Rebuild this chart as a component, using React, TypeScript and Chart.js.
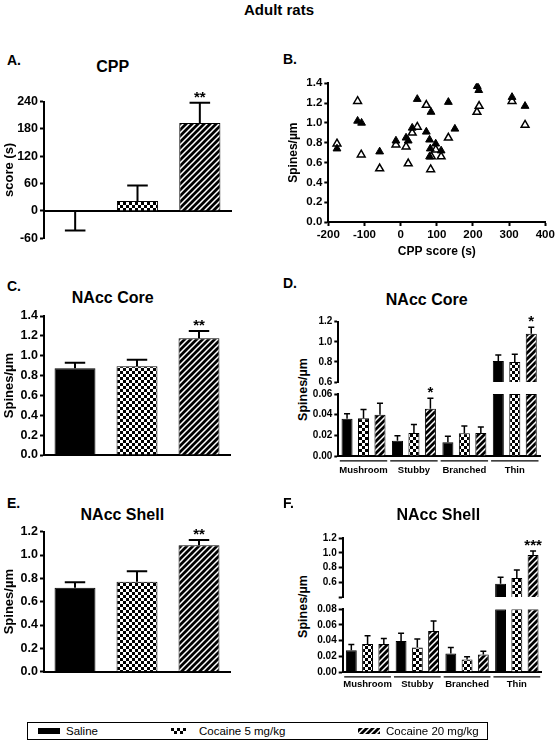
import React, { useEffect, useRef } from 'react';
import { Chart, registerables } from 'chart.js';
Chart.register(...registerables);

const FONT = '"Liberation Sans", Arial, Helvetica, sans-serif';

// ---------------- data ----------------
const treatments = ['Saline', 'Cocaine 5 mg/kg', 'Cocaine 20 mg/kg'];
const spineTypes = ['Mushroom', 'Stubby', 'Branched', 'Thin'];

// A. CPP score (s)
const cppTicks = [-60, 0, 60, 120, 180, 240];
const cppMean = [-2, 22, 193];
const cppSem = [41, 34, 44];
const cppSig = ['', '', '**'];

// B. spine density vs CPP score (filled = core, open = shell)
const scatterXTicks = [-200, -100, 0, 100, 200, 300, 400];
const scatterYTicks = [0, 0.2, 0.4, 0.6, 0.8, 1.0, 1.2, 1.4];
const coreCppX = [-176, -119, -108, -58, -13, 15, 21, 32, 46, 71, 80, 82, 80, 84, 97, 112, 132, 150, 212, 216, 308, 344];
const coreSpinesY = [0.74, 1.02, 1.0, 0.71, 0.82, 0.85, 0.82, 0.95, 1.24, 0.91, 0.83, 0.74, 0.66, 1.11, 0.79, 0.72, 1.21, 0.94, 1.37, 1.33, 1.26, 1.17];
const shellCppX = [-176, -119, -109, -58, -13, 15, 21, 32, 46, 71, 85, 83, 97, 112, 132, 211, 217, 308, 344];
const shellSpinesY = [0.79, 1.22, 0.68, 0.54, 0.78, 0.76, 0.59, 0.9, 0.96, 1.18, 0.66, 0.53, 0.73, 0.66, 0.85, 1.11, 1.17, 1.22, 0.98];

// C. NAcc core total spine density
const coreTotalTicks = [0, 0.2, 0.4, 0.6, 0.8, 1.0, 1.2, 1.4];
const coreTotalMean = [0.873, 0.893, 1.175];
const coreTotalSem = [0.057, 0.067, 0.074];
const coreTotalSig = ['', '', '**'];

// D. NAcc core by spine type (Mushroom, Stubby, Branched, Thin)
const coreUpperTicks = [0.6, 0.8, 1.0, 1.2];
const coreLowerTicks = [0, 0.02, 0.04, 0.06];
const coreSaline = [0.036, 0.0147, 0.0134, 0.81];
const coreSalineSem = [0.005, 0.0048, 0.0056, 0.058];
const coreCoc5 = [0.0365, 0.0223, 0.022, 0.8];
const coreCoc5Sem = [0.0085, 0.0083, 0.007, 0.075];
const coreCoc20 = [0.04, 0.0457, 0.0223, 1.08];
const coreCoc20Sem = [0.011, 0.0101, 0.0057, 0.065];
const coreTypeSig = [['', '', '', ''], ['', '', '', ''], ['', '*', '', '*']];

// E. NAcc shell total spine density
const shellTotalTicks = [0, 0.2, 0.4, 0.6, 0.8, 1.0, 1.2];
const shellTotalMean = [0.72, 0.771, 1.083];
const shellTotalSem = [0.046, 0.089, 0.046];
const shellTotalSig = ['', '', '**'];

// F. NAcc shell by spine type
const shellUpperTicks = [0.4, 0.6, 0.8, 1.0, 1.2];
const shellLowerTicks = [0, 0.02, 0.04, 0.06, 0.08];
const shellSaline = [0.0279, 0.0394, 0.0236, 0.582];
const shellSalineSem = [0.0073, 0.0099, 0.0077, 0.086];
const shellCoc5 = [0.0356, 0.0313, 0.0159, 0.659];
const shellCoc5Sem = [0.0106, 0.0107, 0.0034, 0.108];
const shellCoc20 = [0.0356, 0.0523, 0.0223, 0.974];
const shellCoc20Sem = [0.0073, 0.0128, 0.0043, 0.054];
const shellTypeSig = [['', '', '', ''], ['', '', '', ''], ['', '', '', '***']];

// ---------------- patterns ----------------
function makeChecker(): CanvasPattern {
  const c = document.createElement('canvas');
  c.width = 6; c.height = 6;
  const g = c.getContext('2d')!;
  g.fillStyle = '#fff'; g.fillRect(0, 0, 6, 6);
  g.fillStyle = '#000'; g.fillRect(0, 0, 3, 3); g.fillRect(3, 3, 3, 3);
  return g.createPattern(c, 'repeat')!;
}
function makeStripes(): CanvasPattern {
  const s = 6;
  const c = document.createElement('canvas');
  c.width = s; c.height = s;
  const g = c.getContext('2d')!;
  g.fillStyle = '#000'; g.fillRect(0, 0, s, s);
  g.strokeStyle = '#fff'; g.lineWidth = 1.5;
  g.beginPath();
  g.moveTo(-1, s + 1); g.lineTo(s + 1, -1);
  g.moveTo(-1, 1); g.lineTo(1, -1);
  g.moveTo(s - 1, s + 1); g.lineTo(s + 1, s - 1);
  g.stroke();
  return g.createPattern(c, 'repeat')!;
}
function fills(): (string | CanvasPattern)[] {
  return ['#000', makeChecker(), makeStripes()];
}

// ---------------- helpers ----------------
const bold = (size: number) => ({ family: FONT, size, weight: 'bold' as const });

function yScale(o: { ticks: number[]; width: number; size: number; dec: number; title?: string; titleSize?: number; titlePad?: number; hideBelow?: number }) {
  const min = o.ticks[0];
  const max = o.ticks[o.ticks.length - 1];
  return {
    type: 'linear',
    position: 'left',
    min,
    max,
    afterFit: (s: any) => { s.width = o.width; },
    afterBuildTicks: (s: any) => { s.ticks = o.ticks.map((v) => ({ value: v })); },
    ticks: {
      autoSkip: false,
      color: '#000',
      font: bold(o.size),
      padding: 2,
      callback: (v: any) => (o.hideBelow !== undefined && Number(v) < o.hideBelow ? '' : Number(v).toFixed(o.dec)),
    },
    grid: { display: true, drawOnChartArea: false, drawTicks: true, tickLength: 4, tickWidth: 2, tickColor: '#000', color: '#000' },
    border: { display: true, color: '#000', width: 2 },
    title: o.title
      ? { display: true, text: o.title, color: '#000', font: bold(o.titleSize ?? 13), padding: { top: o.titlePad ?? 0, bottom: 0 } }
      : { display: false },
  };
}

function hiddenX(border: boolean, extra: any = {}) {
  return {
    type: 'category',
    ticks: { display: false },
    grid: { display: false, drawTicks: false },
    border: { display: border, color: '#000', width: 2 },
    afterFit: (s: any) => { s.height = 0; },
    ...extra,
  };
}

function errorBarPlugin(means: number[][], errs: number[][], sigs: string[][], lw: number, cap: number) {
  return {
    id: 'errorBars',
    afterDatasetsDraw(chart: any) {
      const ctx = chart.ctx;
      const y = chart.scales.y;
      chart.data.datasets.forEach((_ds: any, di: number) => {
        const meta = chart.getDatasetMeta(di);
        meta.data.forEach((el: any, i: number) => {
          const m = means[di][i];
          if (m == null) return;
          if (m < y.min - 1e-9 || m > y.max + 1e-9) return;
          const e = errs[di][i];
          const end = m >= 0 ? m + e : m - e;
          const p0 = y.getPixelForValue(m);
          const p1 = y.getPixelForValue(end);
          const { x, width } = el.getProps(['x', 'width'], true);
          const hw = (width * cap) / 2;
          ctx.save();
          ctx.strokeStyle = '#000';
          ctx.lineWidth = lw;
          ctx.beginPath();
          ctx.moveTo(x, p0); ctx.lineTo(x, p1);
          ctx.moveTo(x - hw, p1); ctx.lineTo(x + hw, p1);
          ctx.stroke();
          const s = sigs[di][i];
          if (s) {
            ctx.fillStyle = '#000';
            ctx.font = `bold 15px ${FONT}`;
            ctx.textAlign = 'center';
            ctx.textBaseline = 'alphabetic';
            ctx.fillText(s, x, p1 - 1);
          }
          ctx.restore();
        });
      });
    },
  };
}

const groupLinePlugin = {
  id: 'groupLines',
  afterDraw(chart: any) {
    const ctx = chart.ctx;
    const xs = chart.scales.x;
    const n = chart.data.labels.length;
    const cw = (xs.right - xs.left) / n;
    const yy = chart.chartArea.bottom + 4.8;
    ctx.save();
    ctx.strokeStyle = '#000';
    ctx.lineWidth = 1.2;
    for (let i = 0; i < n; i++) {
      const c = xs.getPixelForValue(i);
      ctx.beginPath();
      ctx.moveTo(c - cw / 2 + 1.5, yy);
      ctx.lineTo(c + cw / 2 - 1.5, yy);
      ctx.stroke();
    }
    ctx.restore();
  },
};

const baseOptions = (padding: any) => ({
  responsive: false,
  animation: false,
  devicePixelRatio: 1,
  layout: { padding },
  plugins: { legend: { display: false }, tooltip: { enabled: false }, title: { display: false } },
});

// simple 3-bar chart (A, C, E)
function simpleBars(means: number[], sems: number[], sigs: string[], y: any, padding: any, xExtra: any = {}) {
  return {
    type: 'bar',
    data: {
      labels: treatments,
      datasets: [
        {
          data: means,
          backgroundColor: fills(),
          borderColor: '#000',
          borderWidth: 1,
          barPercentage: 0.66,
          categoryPercentage: 1,
        },
      ],
    },
    options: { ...baseOptions(padding), scales: { x: hiddenX(true, xExtra), y } },
    plugins: [errorBarPlugin([means], [sems], [sigs], 2, 0.5)],
  };
}

// split-axis grouped bars (D, F)
function typeBars(part: 'upper' | 'lower', series: number[][], sems: number[][], sigs: string[][], y: any, padding: any, labelPad: number) {
  const f = fills();
  const datasets = series.map((vals, k) => ({
    label: treatments[k],
    data: vals.map((v) => (part === 'upper' ? (v >= y.min ? v : null) : Math.min(v, y.max))),
    backgroundColor: f[k],
    borderColor: '#000',
    borderWidth: 1,
    barPercentage: 0.67,
    categoryPercentage: 0.98,
    clip: 0,
  }));
  const x =
    part === 'upper'
      ? hiddenX(false)
      : {
          type: 'category',
          ticks: { display: true, color: '#000', font: bold(9.5), padding: labelPad, autoSkip: false, maxRotation: 0, minRotation: 0 },
          grid: { display: false, drawTicks: false },
          border: { display: true, color: '#000', width: 2 },
          afterFit: (s: any) => { s.height = 24; },
        };
  return {
    type: 'bar',
    data: { labels: spineTypes, datasets },
    options: { ...baseOptions(padding), scales: { x, y } },
    plugins: part === 'lower' ? [errorBarPlugin(series, sems, sigs, 1.5, 0.55), groupLinePlugin] : [errorBarPlugin(series, sems, sigs, 1.5, 0.55)],
  };
}

// ---------------- chart configs ----------------
const makeA = () =>
  simpleBars(
    cppMean, cppSem, cppSig,
    yScale({ ticks: cppTicks, width: 44, size: 12.5, dec: 0, title: 'score (s)', titleSize: 13, titlePad: 2 }),
    { top: 16.5, bottom: 11.7, right: 9, left: 0 },
    { position: { y: 0 } }
  );

const makeB = () => ({
  type: 'scatter',
  data: {
    datasets: [
      {
        label: 'NAcc Core',
        data: coreCppX.map((x, i) => ({ x, y: coreSpinesY[i] })),
        pointStyle: 'triangle',
        radius: 4.5,
        backgroundColor: '#000',
        borderColor: '#000',
        borderWidth: 1,
      },
      {
        label: 'NAcc Shell',
        data: shellCppX.map((x, i) => ({ x, y: shellSpinesY[i] })),
        pointStyle: 'triangle',
        radius: 4.5,
        backgroundColor: '#fff',
        borderColor: '#000',
        borderWidth: 1.5,
      },
    ],
  },
  options: {
    ...baseOptions({ top: 13.3, right: 11.7, bottom: 0, left: 0 }),
    scales: {
      x: {
        type: 'linear',
        position: 'bottom',
        min: scatterXTicks[0],
        max: scatterXTicks[scatterXTicks.length - 1],
        afterFit: (s: any) => { s.height = 38; },
        afterBuildTicks: (s: any) => { s.ticks = scatterXTicks.map((v) => ({ value: v })); },
        ticks: { autoSkip: false, color: '#000', font: bold(11.5), padding: 2, callback: (v: any) => String(v) },
        grid: { display: true, drawOnChartArea: false, drawTicks: true, tickLength: 4, tickWidth: 2, tickColor: '#000', color: '#000' },
        border: { display: true, color: '#000', width: 2 },
        title: { display: true, text: 'CPP score (s)', color: '#000', font: bold(12), padding: { top: 0, bottom: 1 } },
      },
      y: yScale({ ticks: scatterYTicks, width: 48.3, size: 11.5, dec: 1, title: 'Spines/µm', titleSize: 12, titlePad: 6.8 }),
    },
  },
});

const makeC = () =>
  simpleBars(
    coreTotalMean, coreTotalSem, coreTotalSig,
    yScale({ ticks: coreTotalTicks, width: 44, size: 12.5, dec: 1, title: 'Spines/µm', titleSize: 13, titlePad: 2 }),
    { top: 11, bottom: 10, right: 10, left: 0 }
  );

const makeE = () =>
  simpleBars(
    shellTotalMean, shellTotalSem, shellTotalSig,
    yScale({ ticks: shellTotalTicks, width: 44, size: 12.5, dec: 1, title: 'Spines/µm', titleSize: 13, titlePad: 2 }),
    { top: 11.7, bottom: 10.3, right: 10, left: 0 }
  );

const coreSeries = [coreSaline, coreCoc5, coreCoc20];
const coreSems = [coreSalineSem, coreCoc5Sem, coreCoc20Sem];
const shellSeries = [shellSaline, shellCoc5, shellCoc20];
const shellSems = [shellSalineSem, shellCoc5Sem, shellCoc20Sem];

const makeDUpper = () =>
  typeBars('upper', coreSeries, coreSems, coreTypeSig,
    yScale({ ticks: coreUpperTicks, width: 48.3, size: 10, dec: 1 }),
    { top: 16.7, bottom: 6.7, right: 10, left: 0 }, 0);
const makeDLower = () =>
  typeBars('lower', coreSeries, coreSems, coreTypeSig,
    yScale({ ticks: coreLowerTicks, width: 48.3, size: 10, dec: 2 }),
    { top: 7.3, bottom: 0, right: 10, left: 0 }, 8.5);

const makeFUpper = () =>
  typeBars('upper', shellSeries, shellSems, shellTypeSig,
    yScale({ ticks: shellUpperTicks, width: 52.7, size: 10, dec: 1, hideBelow: 0.5 }),
    { top: 13.3, bottom: 7.5, right: 8.3, left: 0 }, 0);
const makeFLower = () =>
  typeBars('lower', shellSeries, shellSems, shellTypeSig,
    yScale({ ticks: shellLowerTicks, width: 52.7, size: 10, dec: 2 }),
    { top: 8.3, bottom: 0, right: 8.3, left: 0 }, 7);

// ---------------- components ----------------
type Box = { left: number; top: number; width: number; height: number };

function ChartCanvas({ box, make }: { box: Box; make: () => any }) {
  const ref = useRef<HTMLCanvasElement | null>(null);
  useEffect(() => {
    if (!ref.current) return;
    const chart = new Chart(ref.current, make());
    return () => chart.destroy();
  }, []);
  return (
    <canvas
      ref={ref}
      width={box.width}
      height={box.height}
      style={{ position: 'absolute', left: box.left, top: box.top, width: box.width, height: box.height }}
    />
  );
}

function Swatch({ left, width, kind }: { left: number; width: number; kind: number }) {
  const ref = useRef<HTMLCanvasElement | null>(null);
  useEffect(() => {
    const c = ref.current;
    if (!c) return;
    const g = c.getContext('2d')!;
    g.fillStyle = fills()[kind] as any;
    g.fillRect(0, 0, c.width, c.height);
  }, []);
  return <canvas ref={ref} width={width} height={6} style={{ position: 'absolute', left, top: 5, width, height: 6 }} />;
}

function Text({ x, y, size, children, boldText = true, align = 'left' }: { x: number; y: number; size: number; children: any; boldText?: boolean; align?: 'left' | 'center' }) {
  const style: any = {
    position: 'absolute',
    top: y - size * 0.6,
    fontFamily: FONT,
    fontSize: size,
    fontWeight: boldText ? 'bold' : 'normal',
    lineHeight: `${size * 1.2}px`,
    whiteSpace: 'nowrap',
    color: '#000',
  };
  if (align === 'center') {
    style.left = x - 150;
    style.width = 300;
    style.textAlign = 'center';
  } else {
    style.left = x;
  }
  return <div style={style}>{children}</div>;
}

function VText({ x, y, size, children }: { x: number; y: number; size: number; children: any }) {
  return (
    <div
      style={{
        position: 'absolute',
        left: x - 60,
        top: y - size * 0.6,
        width: 120,
        textAlign: 'center',
        fontFamily: FONT,
        fontSize: size,
        fontWeight: 'bold',
        lineHeight: `${size * 1.2}px`,
        transform: 'rotate(-90deg)',
        color: '#000',
      }}
    >
      {children}
    </div>
  );
}

export default function App() {
  return (
    <div style={{ position: 'absolute', left: 0, top: 0, width: 558, height: 742, background: '#fff', overflow: 'hidden' }}>
      <Text x={279} y={10} size={15} align="center">Adult rats</Text>

      <Text x={7} y={60} size={14}>A.</Text>
      <Text x={112.7} y={67} size={16} align="center">CPP</Text>
      <ChartCanvas box={{ left: 0, top: 85, width: 240, height: 165 }} make={makeA} />

      <Text x={283} y={59} size={14}>B.</Text>
      <ChartCanvas box={{ left: 280, top: 70, width: 277, height: 190 }} make={makeB} />

      <Text x={7} y={286} size={14}>C.</Text>
      <Text x={112.7} y={298} size={16} align="center">NAcc Core</Text>
      <ChartCanvas box={{ left: 0, top: 305, width: 240, height: 160 }} make={makeC} />

      <Text x={283} y={283} size={14}>D.</Text>
      <Text x={426.7} y={300} size={16} align="center">NAcc Core</Text>
      <VText x={303} y={389} size={12.5}>Spines/µm</VText>
      <ChartCanvas box={{ left: 290, top: 305, width: 260, height: 85 }} make={makeDUpper} />
      <ChartCanvas box={{ left: 290, top: 386, width: 260, height: 94 }} make={makeDLower} />

      <Text x={7} y={503} size={14}>E.</Text>
      <Text x={122.3} y={515} size={16} align="center">NAcc Shell</Text>
      <ChartCanvas box={{ left: 0, top: 520, width: 240, height: 162 }} make={makeE} />

      <Text x={283} y={503} size={14}>F.</Text>
      <Text x={438.3} y={515} size={16} align="center">NAcc Shell</Text>
      <VText x={303} y={606.7} size={12.5}>Spines/µm</VText>
      <ChartCanvas box={{ left: 290, top: 525, width: 260, height: 80 }} make={makeFUpper} />
      <ChartCanvas box={{ left: 290, top: 601, width: 260, height: 95 }} make={makeFLower} />

      <div
        style={{
          position: 'absolute',
          left: 27,
          top: 722,
          width: 459,
          height: 16,
          border: '1px solid #000',
          fontFamily: FONT,
          fontSize: 11.5,
          color: '#000',
        }}
      >
        <Swatch left={9.5} width={22} kind={0} />
        <div style={{ position: 'absolute', left: 38, top: 0, lineHeight: '16px' }}>{treatments[0]}</div>
        <Swatch left={143} width={15} kind={1} />
        <div style={{ position: 'absolute', left: 171, top: 0, lineHeight: '16px' }}>{treatments[1]}</div>
        <Swatch left={329.5} width={22} kind={2} />
        <div style={{ position: 'absolute', left: 358, top: 0, lineHeight: '16px' }}>{treatments[2]}</div>
      </div>
    </div>
  );
}
